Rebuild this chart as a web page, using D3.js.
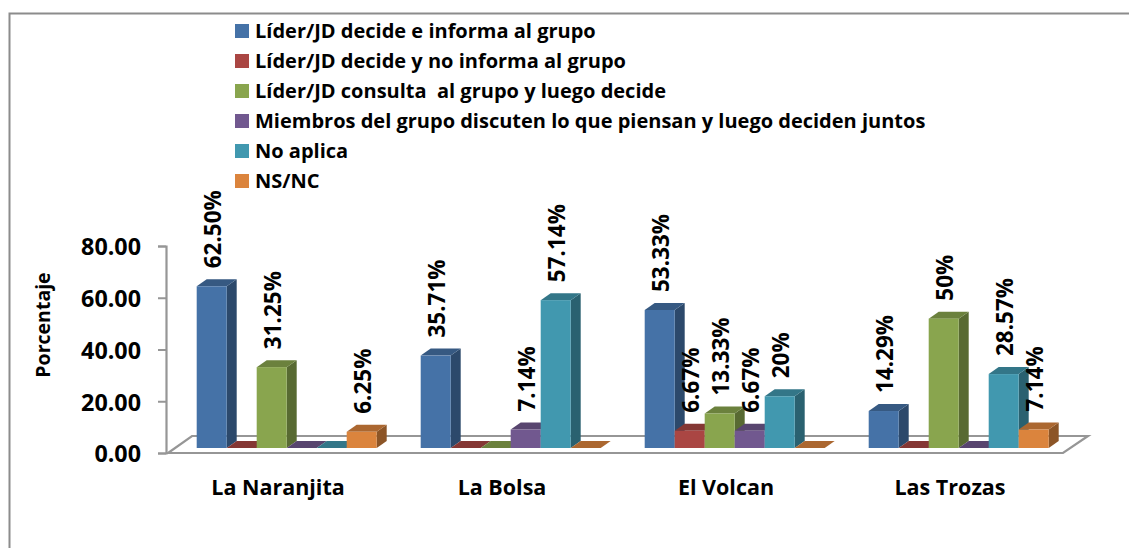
<!DOCTYPE html>
<html>
<head>
<meta charset="utf-8">
<script src="https://cdnjs.cloudflare.com/ajax/libs/d3/7.8.5/d3.min.js"></script>
<style>
html, body { margin: 0; padding: 0; background: #fff; }
svg { display: block; }
text { font-family: "Open Sans", Lato, sans-serif; font-weight: 700; fill: #000; }
</style>
</head>
<body>
<div id="chart"></div>
<script>
// Chart data
var categories = ["La Naranjita", "La Bolsa", "El Volcan", "Las Trozas"];
var seriesNames = [
    "Líder/JD decide e informa al grupo",
    "Líder/JD decide y no informa al grupo",
    "Líder/JD consulta  al grupo y luego decide",
    "Miembros del grupo discuten lo que piensan y luego deciden juntos",
    "No aplica",
    "NS/NC"
];
var seriesColors = ["#4572a7", "#aa4643", "#89a54e", "#71588f", "#4198af", "#db843d"];
var liderInforma = [62.5, 35.71, 53.33, 14.29];
var liderNoInforma = [0, 0, 6.67, 0];
var liderConsulta = [31.25, 0, 13.33, 50];
var miembros = [0, 7.14, 6.67, 0];
var noAplica = [0, 57.14, 20, 28.57];
var nsNc = [6.25, 0, 0, 7.14];
var seriesValues = [liderInforma, liderNoInforma, liderConsulta, miembros, noAplica, nsNc];
// labels as printed on the chart; null means no label
var liderInformaLabels = ["62.50%", "35.71%", "53.33%", "14.29%"];
var liderNoInformaLabels = [null, null, "6.67%", null];
var liderConsultaLabels = ["31.25%", null, "13.33%", "50%"];
var miembrosLabels = [null, "7.14%", "6.67%", null];
var noAplicaLabels = [null, "57.14%", "20%", "28.57%"];
var nsNcLabels = ["6.25%", null, null, "7.14%"];
var seriesLabels = [liderInformaLabels, liderNoInformaLabels, liderConsultaLabels, miembrosLabels, noAplicaLabels, nsNcLabels];
var yTicks = [0, 20, 40, 60, 80];

var width = 1129, height = 548;
var depthX = 10, depthY = 7;   // 3D offset of the back wall
var baseLift = 5;              // bars stand a little behind the front floor edge

var svg = d3.select("#chart").append("svg").attr("width", width).attr("height", height);

// Outer frame, only top and left show in the picture
svg.append("path").attr("d", "M9.5," + height + "L9.5,13.5L" + width + ",13.5")
    .attr("fill", "none").attr("stroke", "#8c8c8c").attr("stroke-width", 2);

var x0 = d3.scaleBand().domain(categories).range([168, 1064]);
var x1 = d3.scaleBand().domain(d3.range(6)).range([28.7, 208.7]);
var y = d3.scaleLinear().domain([0, 80]).range([453, 246]);

// Floor
var floorBack = 436, floorLeftBack = 192, floorRightBack = 1088, floorLeft = 168, floorRight = 1063;
svg.append("path")
    .attr("d", "M" + floorLeft + "," + y(0) + "L" + floorRight + "," + y(0) + "L" + floorRightBack + "," + floorBack + "L" + floorLeftBack + "," + floorBack + "Z")
    .attr("fill", "none").attr("stroke", "#969696").attr("stroke-width", 2.2);

// Value axis
var yAxis = d3.axisLeft(y).tickValues(yTicks).tickSize(8).tickPadding(17).tickFormat(d3.format(".2f"));
var yAxisG = svg.append("g").attr("transform", "translate(166,0)").call(yAxis);
yAxisG.select(".domain").attr("stroke", "#969696").attr("stroke-width", 2.2);
yAxisG.selectAll(".tick line").attr("stroke", "#969696").attr("stroke-width", 2);
yAxisG.selectAll(".tick text").attr("y", 1.5).style("font-size", "23.3px");

svg.append("text").attr("transform", "translate(49.5,325) rotate(-90)")
    .attr("text-anchor", "middle").style("font-size", "19.5px").text("Porcentaje");

// Bars
function bar(g, i, value, color) {
    var w = x1.bandwidth();
    var left = x1(i), right = left + w;
    var bottom = y(0) - baseLift;
    var top = bottom - (y(0) - y(value));
    var c = d3.color(color);
    g.append("path")
        .attr("d", "M" + right + "," + bottom + "l" + depthX + "," + (-depthY) + "L" + (right + depthX) + "," + (top - depthY) + "L" + right + "," + top + "Z")
        .attr("fill", c.darker(1.25));
    g.append("path")
        .attr("d", "M" + left + "," + top + "l" + depthX + "," + (-depthY) + "l" + w + ",0l" + (-depthX) + "," + depthY + "Z")
        .attr("fill", c.darker(0.7));
    if (value > 0) {
        g.append("rect").attr("x", left).attr("y", top).attr("width", w).attr("height", bottom - top)
            .attr("fill", color);
    }
}

var groups = svg.selectAll(".cat").data(categories).enter().append("g")
    .attr("class", "cat")
    .attr("transform", function(d) { return "translate(" + x0(d) + ",0)"; });

groups.each(function(cat, c) {
    var g = d3.select(this);
    seriesValues.forEach(function(vals, i) { bar(g, i, vals[c], seriesColors[i]); });
});

// Data labels go above all bars
groups.each(function(cat, c) {
    var g = d3.select(this);
    seriesValues.forEach(function(vals, i) {
        if (seriesLabels[i][c] === null) return;
        var top = y(vals[c]) - baseLift;
        g.append("text")
            .attr("transform", "translate(" + (x1(i) + x1.bandwidth() / 2 + 9) + "," + (top - 18) + ") rotate(-90)")
            .style("font-size", "22.5px")
            .text(seriesLabels[i][c]);
    });
});

// Category labels
svg.selectAll(".catLabel").data(categories).enter().append("text")
    .attr("class", "catLabel")
    .attr("x", function(d) { return x0(d) + x0.bandwidth() / 2 - 2; })
    .attr("y", 495)
    .attr("text-anchor", "middle")
    .style("font-size", "21.5px")
    .text(function(d) { return d; });

// Legend
var legend = svg.selectAll(".legendRow").data(seriesNames).enter().append("g")
    .attr("class", "legendRow")
    .attr("transform", function(d, i) { return "translate(235," + (24 + i * 30) + ")"; });
legend.append("rect").attr("width", 14).attr("height", 14)
    .attr("fill", function(d, i) { return seriesColors[i]; });
legend.append("text").attr("x", 20).attr("y", 13.5)
    .style("font-size", "20px").style("white-space", "pre").attr("xml:space", "preserve")
    .text(function(d) { return d; });
</script>
</body>
</html>
